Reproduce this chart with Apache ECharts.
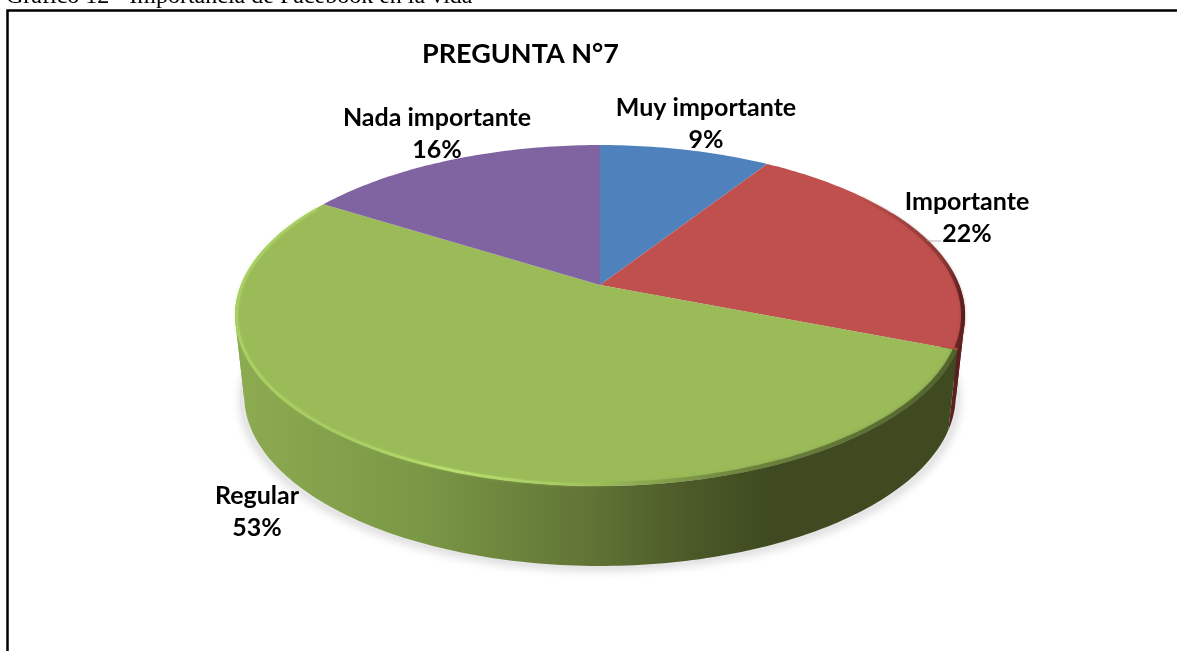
<!DOCTYPE html>
<html>
<head>
<meta charset="utf-8">
<title>Pregunta 7</title>
<style>
  html, body { margin: 0; padding: 0; background: #fff; }
  #chart { width: 1177px; height: 651px; }
</style>
<script src="https://cdn.jsdelivr.net/npm/echarts@6/dist/echarts.min.js"></script>
</head>
<body>
<div id="chart"></div>
<script>
const categorias = ['Muy importante', 'Importante', 'Regular', 'Nada importante'];
const valores    = [9, 22, 53, 16];
const colores    = ['#4f81bd', '#c0504d', '#9bbb59', '#8064a2'];

// --- geometria del disco en perspectiva ---
const APEX = { x: 600, y: 285 };
const RX = 359, RY = 165, PERSP = -0.179;
const DEPTH = 80, BOTTOM_SCALE = 0.975;
const TANGENTES = [102, 258]; // donde el borde es vertical
const RAD = Math.PI / 180;
const total = valores.reduce((a, b) => a + b, 0);

// centro de cada etiqueta (px)
const labelPos = [[706, 124], [967, 218], [257, 512], [437, 134]];

function angulos(i) {
  const ini = valores.slice(0, i).reduce((a, b) => a + b, 0);
  return [ini / total * 360, (ini + valores[i]) / total * 360];
}

function rim(deg) {
  const u = Math.sin(deg * RAD), n = -Math.cos(deg * RAD);
  const w = 1 + PERSP * n;
  return [APEX.x + RX * u / w, APEX.y + RY * n / w];
}

function rimBottom(deg) {
  const p = rim(deg);
  return [APEX.x + (p[0] - APEX.x) * BOTTOM_SCALE, p[1] + DEPTH];
}

function rimInset(deg, sx, sy) {
  const p = rim(deg);
  return [APEX.x + (p[0] - APEX.x) * sx, APEX.y + (p[1] - APEX.y) * sy];
}

function arco(a, b, fn) {
  const pts = [];
  const steps = Math.max(2, Math.ceil(Math.abs(b - a)));
  for (let k = 0; k <= steps; k++) pts.push(fn(a + (b - a) * k / steps));
  return pts;
}

function gradX(stops) {
  return {
    type: 'linear', global: true, x: 234, y: 0, x2: 965, y2: 0,
    colorStops: stops.map(s => ({ offset: s[0], color: s[1] }))
  };
}

const sideFill = [
  null,
  '#5a1f1e',
  gradX([[0, '#8dab50'], [0.25, '#7b9846'], [0.5, '#5f7234'], [0.62, '#4c5a28'], [0.73, '#3f4a21'], [1, '#3f4a21']]),
  null
];

const redRim = gradX([[0.85, 'rgba(110,40,38,0)'], [0.97, 'rgba(110,40,38,0.5)'], [1, 'rgba(80,25,25,0.95)']]);
const greenLight = gradX([[0, 'rgba(172,212,100,0.8)'], [0.15, 'rgba(172,212,100,0.6)'], [0.3, 'rgba(186,224,112,0.95)'], [0.45, 'rgba(172,212,100,0.6)'], [0.53, 'rgba(155,187,89,0)'], [1, 'rgba(155,187,89,0)']]);
const greenDark = gradX([[0.5, 'rgba(63,74,33,0)'], [0.68, 'rgba(63,74,33,0.4)'], [1, 'rgba(63,74,33,0.75)']]);

// --- sombra y pared lateral ---
function renderLado(params, api) {
  const i = params.dataIndex;
  const [a, b] = angulos(i);
  const from = Math.max(a, 62), to = Math.min(b, 298);
  if (!sideFill[i] || to <= from) return { type: 'group', children: [] };
  // se parte en las tangentes para que el relleno no se cancele al doblarse
  const cortes = [from].concat(TANGENTES.filter(t => t > from && t < to), to);
  const children = [];
  for (let k = 0; k < cortes.length - 1; k++) {
    children.push({
      type: 'polygon',
      shape: { points: arco(cortes[k], cortes[k + 1], rim).concat(arco(cortes[k + 1], cortes[k], rimBottom)) },
      style: { fill: sideFill[i] }
    });
  }
  return { type: 'group', children: children };
}

function renderSombra(params) {
  if (params.dataIndex !== 0) return { type: 'group', children: [] };
  return {
    type: 'polygon',
    shape: {
      points: arco(60, 300, d => {
        const p = rimBottom(d);
        return [APEX.x + (p[0] - APEX.x) * 1.012, p[1] + 1];
      })
    },
    style: { fill: '#e6e6e6', shadowBlur: 10, shadowColor: 'rgba(0,0,0,0.14)', shadowOffsetY: 4 }
  };
}

// --- cara superior ---
function renderTapa(params, api) {
  const i = params.dataIndex;
  const [a, b] = angulos(i);
  return {
    type: 'polygon',
    shape: { points: [[APEX.x, APEX.y]].concat(arco(a, b, rim)) },
    style: { fill: colores[i] }
  };
}

// --- bisel del borde ---
function renderBisel(params, api) {
  const i = params.dataIndex;
  const [a, b] = angulos(i);
  if (i === 1) {
    return {
      type: 'polyline',
      shape: { points: arco(a, b - 0.5, d => rimInset(d, 0.995, 0.994)) },
      style: { fill: null, stroke: redRim, lineWidth: 4, shadowBlur: 3, shadowColor: 'rgba(90,30,30,0.4)' }
    };
  }
  if (i === 2) {
    return {
      type: 'group',
      children: [
        {
          type: 'polyline',
          shape: { points: arco(a + 2, b - 2, d => rimInset(d, 0.996, 0.995)) },
          style: { fill: null, stroke: greenLight, lineWidth: 3, shadowBlur: 3, shadowColor: 'rgba(170,205,100,0.5)' }
        },
        {
          type: 'polyline',
          shape: { points: arco(a, 190, d => rimInset(d, 0.994, 0.992)) },
          style: { fill: null, stroke: greenDark, lineWidth: 5, shadowBlur: 4, shadowColor: 'rgba(63,74,33,0.35)' }
        }
      ]
    };
  }
  return { type: 'group', children: [] };
}

// --- etiquetas ---
function renderEtiqueta(params, api) {
  const i = params.dataIndex;
  return {
    type: 'text',
    x: labelPos[i][0],
    y: labelPos[i][1],
    style: {
      text: categorias[i] + '\n' + api.value(0) + '%',
      fill: '#000',
      font: 'bold 25px Lato, sans-serif',
      align: 'center',
      verticalAlign: 'middle',
      lineHeight: 32
    }
  };
}

function serie(fn, z) {
  return { type: 'custom', coordinateSystem: 'none', data: valores, renderItem: fn, z: z, silent: true, animation: false };
}

const chart = echarts.init(document.getElementById('chart'), null, { renderer: 'canvas' });
chart.setOption({
  backgroundColor: '#fff',
  animation: false,
  title: [
    {
      text: 'PREGUNTA N°7', left: 417, top: 36,
      textStyle: { fontFamily: 'Lato, sans-serif', fontWeight: 'bold', fontSize: 27, color: '#000' }
    },
    {
      text: 'Gráfico 12 - Importancia de Facebook en la vida', left: 1, top: -20,
      textStyle: { fontFamily: '"Liberation Serif", serif', fontWeight: 'normal', fontSize: 24, color: '#000' }
    }
  ],
  graphic: [
    { type: 'rect', z: 0, shape: { x: 7.5, y: 10.5, width: 1300, height: 700 }, style: { fill: 'none', stroke: '#000', lineWidth: 2.5 } },
    { type: 'polyline', z: 10, shape: { points: [[927, 240], [930, 241], [941, 241]] }, style: { fill: null, stroke: '#b5b5b5', lineWidth: 1 } }
  ],
  series: [
    serie(renderSombra, 1),
    serie(renderLado, 2),
    serie(renderTapa, 3),
    serie(renderBisel, 4),
    serie(renderEtiqueta, 5)
  ]
});
</script>
</body>
</html>
